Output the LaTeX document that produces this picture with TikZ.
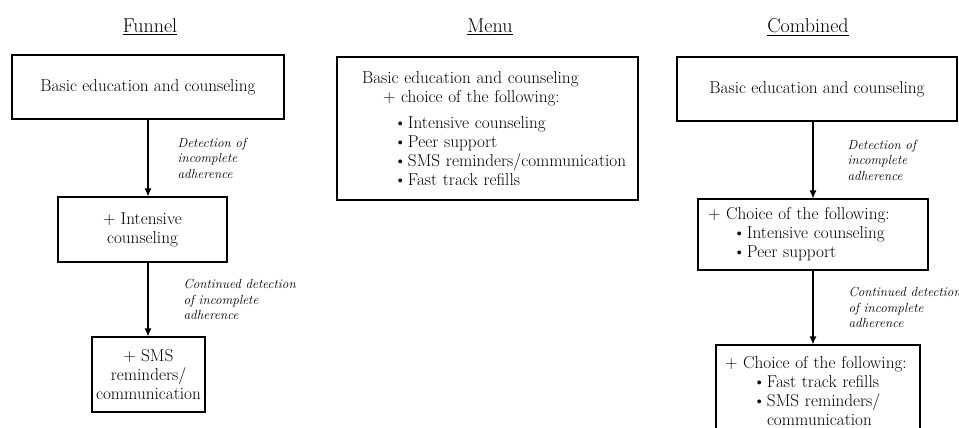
\documentclass[tikz,border=0pt]{standalone}
\usepackage{fontspec}
\usetikzlibrary{arrows.meta}
\newcommand{\itm}[2][25pt]{\hspace*{#1}\makebox[14pt][l]{\textbullet}#2}
\begin{document}
\begin{tikzpicture}[x=1pt, y=-1pt,
    box/.style={draw, line width=1.1pt, inner sep=0pt, font=\fontsize{17.2}{19}\selectfont},
    arr/.style={line width=1.1pt, -{Latex[length=8pt,width=7pt]}},
    lbl/.style={inner sep=0pt, align=left, font=\fontsize{13.2}{15.5}\selectfont\itshape},
    ttl/.style={anchor=base, inner sep=0pt, font=\fontsize{20}{22}\selectfont}]
    \useasboundingbox (0,0) rectangle (959,428);
    \clip (0,0) rectangle (959,428);
    % Draw titles
    \node[ttl] (t1) at (150,33) {\underline{Funnel}};
    \node[ttl] (t2) at (490,33) {\underline{Menu}};
    \node[ttl] (t3) at (808,33) {\underline{Combined}};
    % Funnel
    \node[box, minimum width=272pt, minimum height=64pt, align=center] (f1) at (148,87) {Basic education and counseling};
    \node[box, minimum width=169pt, minimum height=65pt, align=center] (f2) at (142.5,229.5) {+ Intensive\\counseling};
    \node[box, minimum width=113pt, minimum height=75pt, align=center] (f3) at (148.5,374.5) {+ SMS\\reminders/\\communication};
    \draw[arr] (f1.south) -- (f1.south |- f2.north) node[lbl, midway, right=29pt] (d1) {Detection of\\incomplete\\adherence};
    \draw[arr] (f1.south |- f2.south) -- (f1.south |- f3.north) node[lbl, midway, right=35pt] (d2) {Continued detection\\of incomplete\\adherence};
    % Menu
    \node[box, line width=1.6pt, minimum width=301pt, minimum height=143pt, text width=290pt, align=left] (m) at (487.5,128.5)
        {\leftskip=19.5pt Basic education and counseling\\
         \hspace*{21pt}+ choice of the following:\\[7pt]
         \itm[32pt]{Intensive counseling}\\
         \itm[32pt]{Peer support}\\
         \itm[32pt]{SMS reminders/communication}\\
         \itm[32pt]{Fast track refills}\par};
    % Combined
    \node[box, minimum width=280pt, minimum height=64pt, align=center] (c1) at (817,89) {Basic education and counseling};
    \node[box, minimum width=230pt, minimum height=71pt, text width=210pt, align=left] (c2) at (813,234.5)
        {+ Choice of the following:\\ \itm{Intensive counseling}\\ \itm{Peer support}};
    \node[box, minimum width=204pt, minimum height=92pt, text width=186pt, align=left] (c3) at (818,391)
        {+ Choice of the following:\\ \itm[28pt]{Fast track refills}\\ \itm[28pt]{SMS reminders/}\\ \hspace*{42pt}communication};
    \draw[arr] (c2.north |- c1.south) -- (c2.north) node[lbl, midway, right=34pt] (d3) {Detection of\\incomplete\\adherence};
    \draw[arr] (c2.south) -- (c2.south |- c3.north) node[lbl, midway, right=35pt] (d4) {Continued detection\\of incomplete\\adherence};
\end{tikzpicture}
\end{document}
